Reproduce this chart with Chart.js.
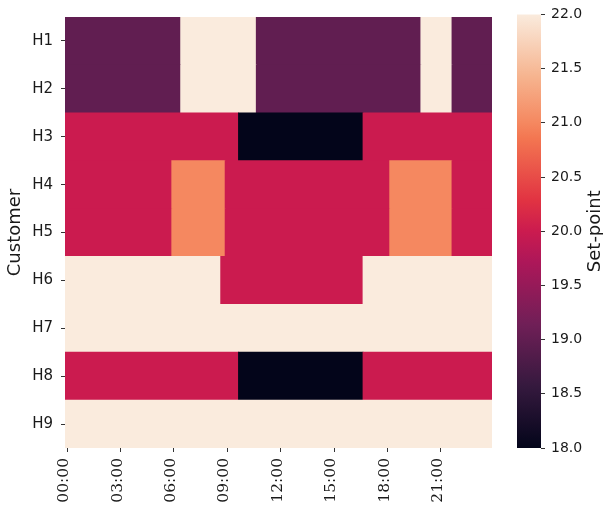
<!DOCTYPE html>
<html>
<head>
<meta charset="utf-8">
<script src="https://cdn.jsdelivr.net/npm/chart.js@4.4.1/dist/chart.umd.min.js"></script>
<style>
  html, body { margin: 0; padding: 0; background: #fff; }
  #wrap { position: relative; width: 603px; height: 510px; }
  #heat { position: absolute; left: 0; top: 0; }
  #cbar { position: absolute; left: 505px; top: 0; }
</style>
</head>
<body>
<div id="wrap">
  <canvas id="heat" width="603" height="510"></canvas>
  <canvas id="cbar" width="98" height="510"></canvas>
</div>
<script>
// customers (rows) and set-point schedule, [start hour, end hour, set-point]
const customers = ["H1", "H2", "H3", "H4", "H5", "H6", "H7", "H8", "H9"];
const H1 = [[0, 6.5, 19], [6.5, 10.75, 22], [10.75, 20, 19], [20, 21.75, 22], [21.75, 24, 19]];
const H2 = [[0, 6.5, 19], [6.5, 10.75, 22], [10.75, 20, 19], [20, 21.75, 22], [21.75, 24, 19]];
const H3 = [[0, 9.75, 20], [9.75, 16.75, 18], [16.75, 24, 20]];
const H4 = [[0, 6, 20], [6, 9, 21], [9, 18.25, 20], [18.25, 21.75, 21], [21.75, 24, 20]];
const H5 = [[0, 6, 20], [6, 9, 21], [9, 18.25, 20], [18.25, 21.75, 21], [21.75, 24, 20]];
const H6 = [[0, 8.75, 22], [8.75, 16.75, 20], [16.75, 24, 22]];
const H7 = [[0, 24, 22]];
const H8 = [[0, 9.75, 20], [9.75, 16.75, 18], [16.75, 24, 20]];
const H9 = [[0, 24, 22]];
const schedule = [H1, H2, H3, H4, H5, H6, H7, H8, H9];

const xTickHours = [0, 3, 6, 9, 12, 15, 18, 21];
const xTickLabels = ["00:00", "03:00", "06:00", "09:00", "12:00", "15:00", "18:00", "21:00"];
const vmin = 18, vmax = 22;
const cbarTicks = [18, 18.5, 19, 19.5, 20, 20.5, 21, 21.5, 22];

// rocket colormap (approx)
const rocket = [
  [0, "#03051a"], [1 / 7, "#35193e"], [2 / 7, "#701f57"], [3 / 7, "#ad1759"],
  [0.5, "#cb1b4f"], [4 / 7, "#e13342"], [5 / 7, "#f37651"], [0.75, "#f58860"],
  [6 / 7, "#f6b48f"], [1, "#faebdd"],
];

function hex2rgb(h) {
  return [1, 3, 5].map((i) => parseInt(h.slice(i, i + 2), 16));
}

function cmap(v) {
  const t = Math.max(0, Math.min(1, (v - vmin) / (vmax - vmin)));
  for (let i = 1; i < rocket.length; i++) {
    if (t <= rocket[i][0]) {
      const [t0, c0] = rocket[i - 1];
      const [t1, c1] = rocket[i];
      const f = (t - t0) / (t1 - t0);
      const a = hex2rgb(c0), b = hex2rgb(c1);
      const c = a.map((x, k) => Math.round(x + (b[k] - x) * f));
      return `rgb(${c[0]},${c[1]},${c[2]})`;
    }
  }
  return rocket[rocket.length - 1][1];
}

Chart.defaults.font.family = "'DejaVu Sans', sans-serif";
Chart.defaults.color = "#1a1a1a";

// --- heatmap as floating bars ---
const cells = [];
const colors = [];
schedule.forEach((row, r) => {
  row.forEach(([s, e, v]) => {
    cells.push({ y: customers[r], x: [s, e] });
    colors.push(cmap(v));
  });
});

const tickStyle = { color: "#333", drawOnChartArea: false, drawTicks: true, tickLength: 4, lineWidth: 1 };

new Chart(document.getElementById("heat"), {
  type: "bar",
  data: {
    labels: customers,
    datasets: [{
      data: cells,
      backgroundColor: colors,
      borderWidth: 0,
      inflateAmount: 0.4,
      barPercentage: 1,
      categoryPercentage: 1,
      grouped: false,
    }],
  },
  options: {
    indexAxis: "y",
    responsive: false,
    animation: false,
    layout: { padding: { top: 13, right: 111, left: 0, bottom: 0 } },
    plugins: { legend: { display: false }, tooltip: { enabled: false } },
    scales: {
      x: {
        type: "linear",
        min: 0,
        max: 24,
        grid: tickStyle,
        border: { display: false },
        afterBuildTicks: (scale) => {
          // seaborn puts tick labels at the centre of the 15-min cell
          scale.ticks = xTickHours.map((h) => ({ value: h + 0.125 }));
        },
        afterFit: (scale) => { scale.height = 62; },
        ticks: {
          minRotation: 90,
          maxRotation: 90,
          padding: 6,
          labelOffset: -3,
          font: { family: "'DejaVu Serif', 'Liberation Serif', serif", size: 15.5 },
          callback: (v, i) => xTickLabels[i],
        },
      },
      y: {
        type: "category",
        grid: { ...tickStyle, offset: false },
        border: { display: false },
        afterFit: (scale) => { scale.width = 65; },
        ticks: { padding: 8, font: { size: 15 } },
        title: { display: true, text: "Customer", font: { size: 18 }, padding: { top: 5, bottom: 0 } },
      },
    },
  },
});

// --- colorbar ---
const cbarTitle = {
  id: "cbarTitle",
  afterDraw(chart) {
    const { ctx, chartArea } = chart;
    ctx.save();
    ctx.translate(chart.width - 8, (chartArea.top + chartArea.bottom) / 2);
    ctx.rotate(-Math.PI / 2);
    ctx.font = "18px 'DejaVu Sans'";
    ctx.fillStyle = "#1a1a1a";
    ctx.textAlign = "center";
    ctx.textBaseline = "middle";
    ctx.fillText("Set-point", 0, 0);
    ctx.restore();
  },
};

new Chart(document.getElementById("cbar"), {
  type: "bar",
  data: {
    labels: [""],
    datasets: [{
      data: [[vmin, vmax]],
      borderWidth: 0,
      barPercentage: 1,
      categoryPercentage: 1,
      backgroundColor: (c) => {
        const area = c.chart.chartArea;
        if (!area) return "#888";
        const g = c.chart.ctx.createLinearGradient(0, area.bottom, 0, area.top);
        rocket.forEach(([t, col]) => g.addColorStop(t, col));
        return g;
      },
    }],
  },
  options: {
    responsive: false,
    animation: false,
    layout: { padding: { top: 13, left: 12, right: 0, bottom: 62 } },
    plugins: { legend: { display: false }, tooltip: { enabled: false } },
    scales: {
      x: { display: false },
      y: {
        position: "right",
        min: vmin,
        max: vmax,
        grid: tickStyle,
        border: { display: false },
        afterBuildTicks: (scale) => { scale.ticks = cbarTicks.map((v) => ({ value: v })); },
        afterFit: (scale) => { scale.width = 62; },
        ticks: { padding: 6, font: { size: 14 }, callback: (v) => v.toFixed(1) },
      },
    },
  },
  plugins: [cbarTitle],
});
</script>
</body>
</html>
